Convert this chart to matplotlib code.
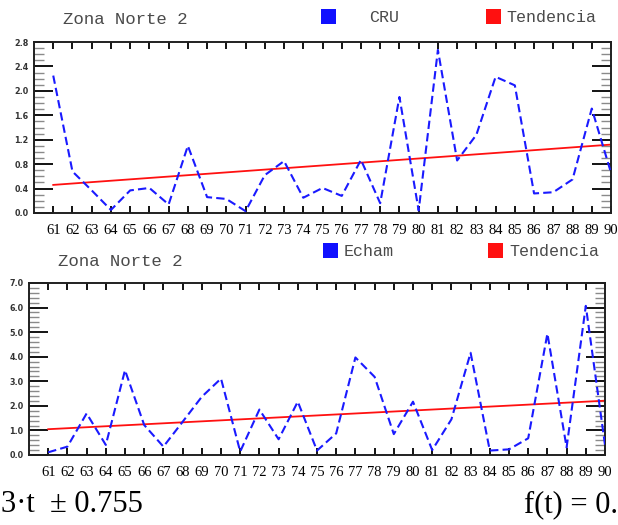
import numpy as np
import matplotlib
matplotlib.use("Agg")
import matplotlib.pyplot as plt
from matplotlib.patches import Rectangle
from matplotlib.ticker import MultipleLocator

# --- data -------------------------------------------------------------
anios = list(range(61, 91))
etiquetas_anio = [str(a) for a in anios]

cru = [2.25, 0.68, 0.37, 0.05, 0.37, 0.41, 0.14, 1.10, 0.26, 0.23,
       0.03, 0.62, 0.85, 0.25, 0.41, 0.28, 0.87, 0.16, 1.90, 0.04,
       2.67, 0.86, 1.28, 2.23, 2.09, 0.32, 0.34, 0.55, 1.71, 0.66]
cru_tendencia = [0.46, 1.12]      # trend value at 61 and at 90

echam = [0.11, 0.34, 1.69, 0.41, 3.45, 1.22, 0.34, 1.35, 2.37, 3.11,
         0.14, 1.85, 0.64, 2.17, 0.18, 0.88, 3.97, 3.18, 0.85, 2.17,
         0.20, 1.45, 4.16, 0.18, 0.23, 0.68, 4.94, 0.31, 6.07, 0.41]
echam_tendencia = [1.05, 2.21]    # trend value at 61 and at 90

titulo = "Zona Norte 2"
serie_cru = "CRU"
serie_echam = "Echam"
serie_tendencia = "Tendencia"
texto_izq = "3\u00b7t  \u00b1 0.755"
texto_der = "f(t) = 0."

# --- figure -----------------------------------------------------------
W, H = 618, 525
fig = plt.figure(figsize=(W / 100, H / 100), dpi=100)
fig.patch.set_facecolor("white")

gris = "#4a4a4a"
mono = ["Liberation Mono", "DejaVu Sans Mono"]
serif = ["Liberation Serif", "DejaVu Serif"]


def px(x, y):
    """pixel position (from top-left) -> figure fraction"""
    return x / W, 1 - y / H


def panel(box, serie, tendencia, ymax, ymaj, ymin, yfmt):
    l, t, r, b = box
    ax = fig.add_axes([l / W, 1 - b / H, (r - l) / W, (b - t) / H])
    ax.plot(anios, serie, color="#1a1aff", lw=1.5,
            linestyle=(0, (4, 2)), zorder=3)
    ax.plot([anios[0], anios[-1]], tendencia, color="#ff1010", lw=1.3,
            zorder=2)
    ax.set_xlim(60, 90)
    ax.set_ylim(0, ymax)
    ax.set_xticks(anios)
    ax.set_xticklabels(etiquetas_anio, fontfamily=serif, fontsize=10.5,
                       color="black")
    ax.yaxis.set_major_locator(MultipleLocator(ymaj))
    ax.yaxis.set_minor_locator(MultipleLocator(ymin))
    ax.set_yticks(np.arange(0, ymax + ymaj / 2, ymaj))
    ax.set_yticklabels([yfmt.format(v) for v in np.arange(0, ymax + ymaj / 2, ymaj)],
                       fontsize=5.8, fontweight="bold", color="#333333")
    ax.tick_params(axis="x", direction="in", length=5, width=1.3,
                   top=True, bottom=True, pad=8)
    ax.tick_params(axis="y", which="major", direction="in", length=14,
                   width=1.3, left=True, right=True, pad=4)
    ax.tick_params(axis="y", which="minor", direction="in", length=7,
                   width=1.0, color="#8a8a8a", left=True, right=True)
    for s in ax.spines.values():
        s.set_linewidth(1.4)
        s.set_color("#202020")
    return ax


panel((34, 42, 611, 213), cru, cru_tendencia, 2.8, 0.4, 0.1, "{:.1f}")
panel((29, 283, 605, 455), echam, echam_tendencia, 7.0, 1.0, 0.2, "{:.1f}")

# titles and legends
fig.text(*px(63, 20), titulo, family=mono, fontsize=12.5, color=gris,
         va="center", ha="left")
fig.text(*px(58, 262), titulo, family=mono, fontsize=12.5, color=gris,
         va="center", ha="left")


def cuadro(x, y, color):
    fig.patches.append(Rectangle(px(x, y + 15), 15 / W, 15 / H,
                                 transform=fig.transFigure,
                                 facecolor=color, edgecolor="none"))


cuadro(321, 9, "#1010ff")
fig.text(*px(369, 18), serie_cru, family=mono, fontsize=12, color=gris,
         va="center", ha="left")
cuadro(486, 9, "#ff1010")
fig.text(*px(506, 18), serie_tendencia, family=mono, fontsize=12,
         color=gris, va="center", ha="left")

cuadro(323, 243, "#1010ff")
fig.text(*px(344, 252), serie_echam, family=mono, fontsize=12, color=gris,
         va="center", ha="left")
cuadro(488, 243, "#ff1010")
fig.text(*px(509, 252), serie_tendencia, family=mono, fontsize=12,
         color=gris, va="center", ha="left")

# fitted-equation fragments
fig.text(*px(1, 505), texto_izq, family=serif, fontsize=22, color="black",
         va="center", ha="left")
fig.text(*px(524, 505), texto_der, family=serif, fontsize=22, color="black",
         va="center", ha="left")

fig.savefig("out.png", dpi=100)
